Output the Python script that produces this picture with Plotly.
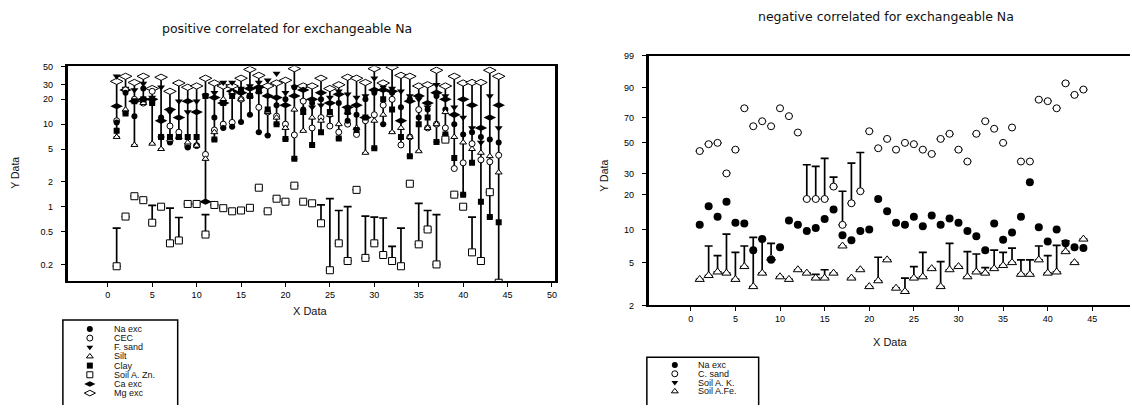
import numpy as np
import plotly.graph_objects as go

# ---------------- data: left chart (positive correlated) ----------------
x_left = list(range(1, 45))
na_L = [10.5, 24, 12.5, 27, 18, 12, 6, 7, 5.2, 5.5, 22, 12, 9, 9.3, 10.6, 13, 8, 7.3, 17, 20, 28, 15,
        18, 20, 13, 18, 11, 13, 20, 24, 10, 24, 16, 20, 12, 15, 22, 15, 10, 7.5, 8, 7, 6.5, 6]
cec_L = [11, 26, 20, 18, 25, 7, 9.5, 8, 5.5, 5.5, 4.3, 8.5, 10, 10.5, 20, 22, 16, 14, 12.5, 10, 7.4, 19,
         9, 12, 9.5, 8, 10, 7.5, 11, 13, 17, 20, 5.6, 7, 15, 9, 10, 9, 2.9, 3.4, 5.8, 3.7, 3.5, 4.2]
fsand_L = [38, 27, 26, 31, 21, 28, 14, 19, 14, 19, 22, 24, 32, 32, 27, 29, 32, 34, 41, 24, 28, 19,
           16, 17, 21, 25, 23, 21, 22, 36, 28, 27, 25, 22, 20, 16, 30, 22, 16, 12, 9, 6, 22, 9]
silt_L = [7, 15, 5.6, 18, 5.8, 5.0, 6.5, 7, 6, 5.5, 3.8, 8, 20, 24, 20, 22, 25, 14, 12, 9, 15, 8.3,
          12, 11, 13, 10, 14, 9, 4.5, 11, 13, 8, 9, 7, 4.7, 9, 10, 14, 7, 6, 5, 4.5, 4.1, 2.6]
clay_L = [8.3, 13.5, 19, 20, 18, 7, 7, 7, 7, 7, 22, 6.5, 18, 22, 25, 22, 25, 15, 10, 6.6, 3.8, 14,
          5.6, 8, 14, 6.7, 14, 8.5, 12, 5.1, 20, 15, 7, 4.1, 10, 12, 6.1, 7.5, 3.9, 1.4, 3.4, 1.15, 0.75, 0.65]
zn_L = [0.19, 0.76, 1.34, 1.2, 0.64, 1.0, 0.36, 0.39, 1.08, 1.08, 0.46, 1.05, 0.96, 0.88, 0.9, 0.97,
        1.7, 0.88, 1.25, 1.15, 1.8, 1.15, 1.1, 0.63, 0.17, 0.36, 0.22, 1.6, 0.24, 0.36, 0.26, 0.22,
        0.19, 1.9, 0.35, 0.53, 0.2, 6.5, 1.4, 1.0, 0.28, 0.22, 1.5, 0.12]
zn_err_L = [0.36, None, None, None, 0.4, None, 0.6, 0.35, None, None, 0.34, None, None, None, None, None,
            None, None, None, None, None, None, None, 0.42, 1.08, 0.54, 0.78, None, 0.53, 0.39, 0.47, 0.11,
            0.36, None, 0.75, 0.37, 0.6, None, None, None, 0.47, None, None, None]
ca_L = [16.5, 26, 19, 20, 20, 11, 15, 12, 19, 14, 1.15, 21, 18, 25, 24, 27, 28, 22, 21, 17, 22, 26,
        20, 24, 18, 23, 16, 17, 12, 26, 26, 25, 11, 19, 22, 18, 24, 20, 13, 20, 17, 9, 12, 17]
mg_L = [33, 38, 32, 38, 27, 37, 25, 31.5, 28, 29, 36, 31.5, 29, 29, 36, 46, 39, 29, 31.5, 34, 47, 29,
        29, 36, 27, 30, 37, 36, 32, 47, 31.5, 49, 39, 38, 29, 30, 45, 29, 38, 31.5, 32, 32, 45, 38]
# lower end of the Mg exc error bars
mg_low_L = [7, 13.5, 5.6, 18, 5.8, 5.0, 6, 7, 5.2, 5.5, 1.15, 6.5, 9, 9.3, 10.6, 13, 8, 7.3, 10, 6.6,
            3.8, 8.3, 5.6, 8, 9.5, 6.7, 10, 7.5, 4.5, 5.1, 10, 8, 5.6, 4.1, 4.7, 9, 6.1, 7.5, 2.9, 1.4,
            3.4, 0.22, 0.75, 0.12]

# ---------------- data: right chart (negative correlated) ----------------
x_right = list(range(1, 45))
na_R = [11, 16, 13, 17.5, 11.5, 11.3, 6.5, 8.2, 5.3, 6.9, 12, 11, 9.7, 10.3, 12.4, 15, 8.9, 8, 9.7, 10,
        18.5, 14.5, 11.5, 11, 13, 10.7, 13.3, 11, 12.5, 11.5, 9.7, 8.7, 6.5, 11.3, 8.1, 9.4, 13, 25.5,
        10.5, 7.8, 10, 7.5, 6.9, 6.8]
csand_R = [44, 49, 50, 30, 45, 77, 63, 67, 63, 77, 71, 58, 18.5, 18.5, 18.5, 23.5, 11, 17, 21.5, 59, 46,
           53, 45, 50, 49, 45, 42, 53, 57, 45, 37, 57, 67, 61, 50, 62, 37, 37, 83, 82, 77, 92, 86, 89]
csand_hi_R = [None] * 12 + [35, 34, 39, 28, 21.5, 36, 43] + [None] * 25
soilK_R = [None] * 41 + [7.6, None, None]
soilFe_R = [3.5, 3.8, 4.1, 4.0, 3.5, 4.6, 3.0, 4.0, 5.5, 3.7, 3.5, 4.3, 4.0, 3.6, 3.6, 4.0, 7.1, 3.6,
            4.3, 3.0, 3.4, 5.3, 2.9, 2.7, 3.6, 3.7, 4.4, 3.0, 4.3, 4.6, 3.7, 4.1, 4.0, 4.4, 4.7, 5.0,
            3.9, 3.9, 5.3, 4.0, 4.1, 6.3, 5.0, 8.2]
soilFe_hi_R = [None, 7.1, 5.8, 9.1, 6.2, 7.1, 8.5, 8.2, 7.5, None, None, None, None, 3.9, 4.3, None,
               None, None, None, None, 5.6, None, None, 3.6, 4.6, 6.2, None, 5.1, 7.5, None, 6.3, 6.0,
               4.5, 6.5, 6.2, 6.8, 5.3, 5.3, 7.1, 5.8, 7.2, 7.9, None, None]

left_ticks = [0.2, 0.5, 1, 2, 5, 10, 20, 30, 50]
right_ticks = [2, 5, 10, 20, 30, 50, 70, 90, 99]
x_ticks = list(range(0, 51, 5))

W, H = 1132, 410
FONT = "Liberation Sans, Arial, sans-serif"
TFONT = "DejaVu Sans, Liberation Sans, sans-serif"
INK = "#111111"


def wb(v):
    """Weibull probability-scale transform (percent)."""
    a = np.array([np.nan if t is None else t for t in v], dtype=float)
    return np.log(-np.log(1 - a / 100.0))


def px_dom(a, b, total):
    return [a / total, b / total]


fig = go.Figure()

# ---- left chart traces ----
mg_minus = [m - lo for m, lo in zip(mg_L, mg_low_L)]
open_m = dict(color="white", size=6, line=dict(color="black", width=1))
fill_m = dict(color="black", size=6, line=dict(color="black", width=0))

fig.add_trace(go.Scatter(x=x_left, y=mg_L, mode="markers", name="Mg exc",
                         marker=dict(symbol="diamond-wide", **{**open_m, "size": 9}),
                         error_y=dict(type="data", symmetric=False, array=[0] * 44, arrayminus=mg_minus,
                                      color="black", thickness=1.7, width=3),
                         xaxis="x", yaxis="y"))
series_left = [
    ("F. sand", fsand_L, "triangle-down", True),
    ("Ca exc", ca_L, "diamond-wide", True),
    ("CEC", cec_L, "circle", False),
    ("Na exc", na_L, "circle", True),
    ("Silt", silt_L, "triangle-up", False),
    ("Clay", clay_L, "square", True),
]
for name, vals, sym, filled in series_left:
    m = dict(fill_m) if filled else dict(open_m)
    if sym == "diamond-wide":
        m["size"] = 9
    elif sym == "triangle-down":
        m["size"] = 7
    fig.add_trace(go.Scatter(x=x_left, y=vals, mode="markers", name=name,
                             marker=dict(symbol=sym, **m), xaxis="x", yaxis="y"))
fig.add_trace(go.Scatter(x=x_left, y=zn_L, mode="markers", name="Soil A. Zn.",
                         marker=dict(symbol="square", **{**open_m, "size": 7}),
                         error_y=dict(type="data", symmetric=False, array=zn_err_L, arrayminus=[0] * 44,
                                      color="black", thickness=1.7, width=4),
                         xaxis="x", yaxis="y"))

# ---- right chart traces ----
cs_plus = [None if h is None else float(wb([h])[0] - wb([v])[0]) for h, v in zip(csand_hi_R, csand_R)]
fe_plus = [None if h is None else float(wb([h])[0] - wb([v])[0]) for h, v in zip(soilFe_hi_R, soilFe_R)]
fig.add_trace(go.Scatter(x=x_right, y=wb(csand_R), mode="markers", name="C. sand",
                         marker=dict(symbol="circle", **{**open_m, "size": 7}),
                         error_y=dict(type="data", symmetric=False, array=cs_plus, arrayminus=[0] * 44,
                                      color="black", thickness=1.7, width=4),
                         xaxis="x2", yaxis="y2"))
fig.add_trace(go.Scatter(x=x_right, y=wb(soilFe_R), mode="markers", name="Soil A.Fe.",
                         marker=dict(symbol="triangle-up", **{**open_m, "size": 8}),
                         error_y=dict(type="data", symmetric=False, array=fe_plus, arrayminus=[0] * 44,
                                      color="black", thickness=1.7, width=4),
                         xaxis="x2", yaxis="y2"))
fig.add_trace(go.Scatter(x=x_right, y=wb(soilK_R), mode="markers", name="Soil A. K.",
                         marker=dict(symbol="triangle-down", **{**fill_m, "size": 7}), xaxis="x2", yaxis="y2"))
fig.add_trace(go.Scatter(x=x_right, y=wb(na_R), mode="markers", name="Na exc",
                         marker=dict(symbol="circle", **{**fill_m, "size": 8}), xaxis="x2", yaxis="y2"))

# ---- manual legends (pixel-space helper axes) ----
leg_left = [("Na exc", "circle", True), ("CEC", "circle", False), ("F. sand", "triangle-down", True),
            ("Silt", "triangle-up", False), ("Clay", "square", True), ("Soil A. Zn.", "square", False),
            ("Ca exc", "diamond-wide", True), ("Mg exc", "diamond-wide", False)]
leg_right = [("Na exc", "circle", True), ("C. sand", "circle", False),
             ("Soil A. K.", "triangle-down", True), ("Soil A.Fe.", "triangle-up", False)]


def add_legend(items, y0, dy, sym_x, txt_x, box):
    for i, (name, sym, filled) in enumerate(items):
        yy = y0 + i * dy
        m = dict(fill_m) if filled else dict(open_m)
        m["size"] = 6 if sym != "diamond-wide" else 8
        fig.add_trace(go.Scatter(x=[sym_x], y=[yy], mode="markers", marker=dict(symbol=sym, **m),
                                 xaxis="x3", yaxis="y3", hoverinfo="skip"))
        fig.add_annotation(x=txt_x, y=yy, xref="x3", yref="y3", text=name, showarrow=False,
                           xanchor="left", yanchor="middle", font=dict(size=9, family=FONT, color=INK))
    bx0, by0, bx1, by1 = box
    fig.add_shape(type="rect", x0=bx0, y0=by0, x1=bx1, y1=by1, xref="x3", yref="y3",
                  line=dict(color="black", width=1.5), fillcolor="rgba(0,0,0,0)")


add_legend(leg_left, 332, 9.4, 90, 112, (63, 323, 178, 416))
add_legend(leg_right, 369, 9.0, 676, 697, (648, 361, 760, 416))

axis_common = dict(showgrid=False, zeroline=False, showline=True, linecolor="black",
                   ticks="outside", ticklen=4, tickwidth=1, tickcolor="black",
                   tickfont=dict(size=9, family=FONT, color="#000000"))

fig.update_layout(
    width=W, height=H, margin=dict(l=0, r=0, t=0, b=0), showlegend=False,
    paper_bgcolor="white", plot_bgcolor="rgba(0,0,0,0)",
    xaxis=dict(domain=px_dom(68, 556, W), range=[-4.49, 50.34], tickvals=x_ticks, anchor="y",
               linewidth=1.5, mirror=True, **axis_common),
    yaxis=dict(domain=[1 - 283 / H, 1 - 63 / H], type="log", range=[np.log10(0.1256), np.log10(50)],
               tickvals=left_ticks, ticktext=[f"{t:g}" for t in left_ticks], anchor="x",
               linewidth=3, mirror=True, ticklabelstandoff=6, **axis_common),
    xaxis2=dict(domain=px_dom(650, 1132, W), range=[-4.70, 49.22], tickvals=x_ticks, anchor="y2",
                linewidth=1.5, mirror=True, **axis_common),
    yaxis2=dict(domain=[1 - 308 / H, 1 - 52 / H], range=[float(wb([2])[0]), float(wb([99])[0])],
                tickvals=list(wb(right_ticks)), ticktext=[str(t) for t in right_ticks], anchor="x2",
                linewidth=3, mirror=False, ticklabelstandoff=6, **axis_common),
    xaxis3=dict(domain=[0, 1], range=[0, W], visible=False, anchor="y3"),
    yaxis3=dict(domain=[0, 1], range=[H, 0], visible=False, anchor="x3"),
)


# titles
def ann(x, y, text, size, angle=0, family=FONT):
    fig.add_annotation(x=x, y=y, xref="x3", yref="y3", text=text, showarrow=False, textangle=angle,
                       xanchor="center", yanchor="middle", font=dict(size=size, family=family, color=INK))


ann(288, 24, "positive correlated for exchangeable Na", 12.5, family=TFONT)
ann(888, 12, "negative correlated for exchangeable Na", 12.5, family=TFONT)
ann(311, 314, "X Data", 11)
ann(892, 345, "X Data", 11)
ann(15, 172, "Y Data", 10.5, -90)
ann(605, 175, "Y Data", 10.5, -90)

fig.write_html("out.html")
